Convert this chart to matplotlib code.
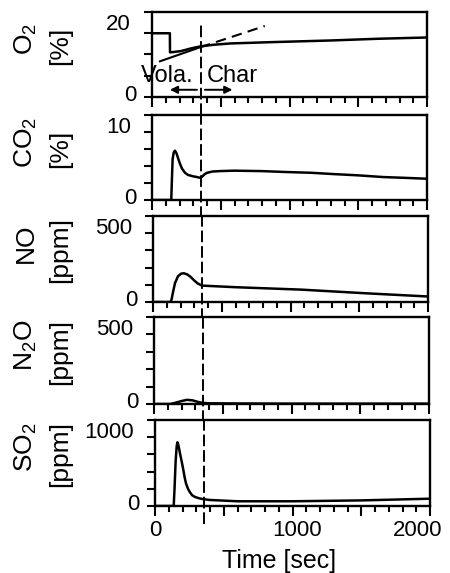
import matplotlib.pyplot as plt
from matplotlib.ticker import MultipleLocator, FixedLocator, FuncFormatter
from matplotlib.transforms import ScaledTranslation, blended_transform_factory

plt.rcParams['font.family'] = ['Liberation Sans', 'DejaVu Sans']
plt.rcParams['mathtext.default'] = 'regular'
plt.rcParams['font.size'] = 16

# O2 concentration [%]
o2_t = [0, 130, 131, 160, 210, 280, 350, 450, 570, 860, 1300, 1640, 2000]
o2 = [15, 15, 10.5, 10.6, 10.8, 11.4, 11.9, 12.3, 12.6, 12.9, 13.3, 13.7, 14.0]
# linear trend of O2 through the char stage
fit_t = [58, 350, 820]
fit_o2 = [8.4, 11.7, 16.7]

# CO2 [%]
co2_t = [0, 140, 145, 150, 158, 167, 178, 192, 205, 218, 240, 262, 295, 327, 352,
         365, 380, 400, 440, 494, 600, 800, 960, 1160, 1320, 1500, 1680, 1850, 2000]
co2 = [0, 0, 2.5, 4.8, 5.6, 5.8, 5.5, 4.8, 4.2, 3.7, 3.2, 2.95, 2.8, 2.7, 2.6,
       2.75, 3.0, 3.2, 3.35, 3.4, 3.45, 3.4, 3.3, 3.2, 3.05, 2.9, 2.7, 2.6, 2.5]

# NO [ppm]
no_t = [0, 128, 135, 145, 160, 182, 205, 225, 250, 275, 300, 325, 349, 364, 600, 1076, 1563, 2000]
no = [0, 0, 15, 55, 110, 150, 165, 167, 160, 145, 125, 108, 98, 95, 86, 72, 50, 32]

# N2O [ppm]
n2o_t = [0, 120, 160, 200, 240, 280, 320, 360, 400, 600, 1000, 2000]
n2o = [0, 0, 8, 17, 24, 21, 12, 6, 4, 3, 2, 2]

# SO2 [ppm]
so2_t = [0, 136, 142, 150, 158, 163, 170, 182, 195, 206, 216, 225, 240, 254, 270,
         291, 320, 349, 400, 600, 1000, 1500, 2000]
so2 = [0, 0, 200, 520, 700, 740, 710, 610, 510, 420, 330, 265, 200, 160, 125,
       105, 90, 80, 70, 55, 55, 65, 85]

# end of devolatilisation / start of char burning [sec]
boundary_t = 355

names = ["O$_2$", "CO$_2$", "NO", "N$_2$O", "SO$_2$"]
units = ["[%]", "[%]", "[ppm]", "[ppm]", "[ppm]"]
ymaxs = [20, 10, 500, 500, 1000]
ysteps = [5, 2, 100, 100, 200]
xticks = [0, 500, 1000, 1500, 2000]
series = [(o2_t, o2), (co2_t, co2), (no_t, no), (n2o_t, n2o), (so2_t, so2)]

W, H = 450, 573
fig = plt.figure(figsize=(W / 100, H / 100), dpi=100)

# panel boxes in pixels: left, top, bottom
boxes = [(152, 12, 97), (152, 115, 200), (153, 216, 302), (154, 317, 404), (155, 420, 506)]
dash = (0, (6, 2))


def shift(label, dx, dy):
    # move a tick label by dx, dy pixels
    label.set_transform(label.get_transform()
                        + ScaledTranslation(dx / 100, dy / 100, fig.dpi_scale_trans))


axes = []
for i, (left, top, bottom) in enumerate(boxes):
    ax = fig.add_axes([left / W, 1 - bottom / H, 275 / W, (bottom - top) / H])
    axes.append(ax)
    t, v = series[i]
    ax.plot(t, v, color='black', lw=1.8)
    ax.set_xlim(0, 2000)
    ax.set_ylim(0, ymaxs[i])

    ax.xaxis.set_major_locator(FixedLocator(xticks))
    ax.xaxis.set_minor_locator(MultipleLocator(100))
    ax.yaxis.set_major_locator(FixedLocator([0, ymaxs[i]]))
    ax.yaxis.set_minor_locator(MultipleLocator(ysteps[i]))
    ax.yaxis.set_major_formatter(FuncFormatter(lambda val, pos: f"{val:g}"))
    ax.tick_params(which='both', direction='out', width=1.5, colors='black')
    ax.tick_params(axis='x', which='major', length=7)
    ax.tick_params(axis='x', which='minor', length=4)
    ax.tick_params(axis='y', which='both', length=6, pad=7)
    for sp in ax.spines.values():
        sp.set_linewidth(1.7)

    # nudge the two y tick labels inside the panel height
    yt = ax.yaxis.get_major_ticks()
    shift(yt[0].label1, 3, 4)
    shift(yt[1].label1, -3, -10)

    if i < len(boxes) - 1:
        ax.tick_params(axis='x', labelbottom=False)
    else:
        ax.xaxis.set_major_formatter(
            FuncFormatter(lambda val, pos: f"{val:g}" if val % 1000 == 0 else ""))
        ax.tick_params(axis='x', which='major', pad=3)
        xt = ax.xaxis.get_major_ticks()
        shift(xt[2].label1, 5, 0)
        shift(xt[4].label1, -12, 0)
        ax.set_xlabel("Time [sec]", fontsize=18)
        ax.xaxis.set_label_coords(0.45, -0.64)
        ax.xaxis.label.set_va('center')

    tr = blended_transform_factory(fig.transFigure, ax.transAxes)
    ax.text(26 / W, 0.68, names[i], transform=tr, rotation=90, ha='center', va='center',
            fontsize=19)
    ax.text(60 / W, 0.60, units[i], transform=tr, rotation=90, ha='center', va='center',
            fontsize=19)

    ax.axvline(boundary_t, ymin=-0.21, ymax=0.88 if i == 0 else 1.0, clip_on=False,
               color='black', lw=1.4, linestyle=dash)

ax = axes[0]
ax.plot(fit_t[:2], fit_o2[:2], color='black', lw=1.5)
ax.plot(fit_t[1:], fit_o2[1:], color='black', lw=1.5, linestyle=(0, (5, 3)))
ax.text(boundary_t - 50, 5, "Vola.", ha='right', va='center', fontsize=17)
ax.text(boundary_t + 45, 5, "Char", ha='left', va='center', fontsize=17)
arrow = dict(arrowstyle='-|>', lw=1.4, color='black', mutation_scale=11, shrinkA=0, shrinkB=0)
ax.annotate("", xy=(130, 1.7), xytext=(boundary_t - 28, 1.7), arrowprops=arrow)
ax.annotate("", xy=(585, 1.7), xytext=(boundary_t + 30, 1.7), arrowprops=arrow)

fig.savefig('out.png', dpi=100)
